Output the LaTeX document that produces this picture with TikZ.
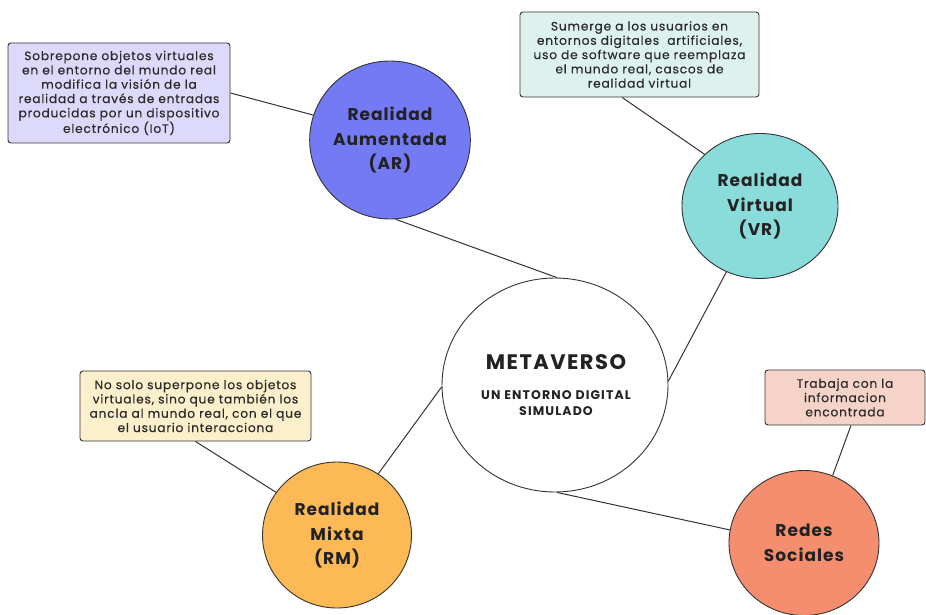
\documentclass[tikz,border=0pt]{standalone}
\usepackage{fontspec}
\setmainfont{Poppins}
\newfontfamily\trackcircle[LetterSpace=6]{Poppins}
\newfontfamily\trackmeta[LetterSpace=7]{Poppins}
\newfontfamily\tracksub[LetterSpace=9]{Poppins}
\newfontfamily\tracknote[LetterSpace=6.5,FakeBold=0.35]{Poppins}
\usetikzlibrary{shapes.geometric}
\definecolor{arfill}{HTML}{7479F4}
\definecolor{vrfill}{HTML}{8ADCDA}
\definecolor{rmfill}{HTML}{FCB955}
\definecolor{rsfill}{HTML}{F58E6E}
\definecolor{arbox}{HTML}{DCD9FA}
\definecolor{vrbox}{HTML}{DDF2EF}
\definecolor{rmbox}{HTML}{FCEFCB}
\definecolor{rsbox}{HTML}{F6D3C8}
\definecolor{ink}{HTML}{222222}
\definecolor{noteink}{HTML}{2A2A2A}
\definecolor{edge}{HTML}{333333}
\tikzset{
  topic/.style={ellipse, draw=edge, line width=0.9pt, inner sep=0pt, align=center,
    text=ink, font=\trackcircle\fontsize{17}{24.5}\selectfont\bfseries},
  note/.style={draw=edge, line width=0.9pt, rounded corners=3pt, align=center,
    text=noteink, font=\tracknote\fontsize{12.2}{14.3}\selectfont, inner sep=0pt},
  link/.style={draw=edge, line width=1pt}
}
\begin{document}
\begin{tikzpicture}[x=1pt,y=-1pt]
\useasboundingbox (0,0) rectangle (926,615);
% circles
\node[topic, fill=white, minimum width=226pt, minimum height=214pt] (meta) at (555,385) {};
\node[font=\trackmeta\fontsize{21}{25}\selectfont\bfseries, text=ink] (metat) at (556,362) {METAVERSO};
\node[font=\tracksub\fontsize{12.5}{15.5}\selectfont\bfseries, text=ink, align=center] (metas) at (556,403) {UN ENTORNO DIGITAL\\SIMULADO};
\node[topic, fill=arfill, minimum width=160pt, minimum height=158pt] (ar) at (390,140) {Realidad\\Aumentada\\(AR)};
\node[topic, fill=vrfill, minimum width=156pt, minimum height=145pt] (vr) at (760,206) {Realidad\\Virtual\\(VR)};
\node[topic, fill=rmfill, minimum width=149pt, minimum height=146pt] (rm) at (337,535) {Realidad\\Mixta\\(RM)};
\node[topic, fill=rsfill, minimum width=150pt, minimum height=145pt] (rs) at (804,543) {Redes\\Sociales};
% notes
\node[note, fill=arbox, minimum width=222pt, minimum height=100pt] (arn) at (119,93)
  {Sobrepone objetos virtuales\\en el entorno del mundo real\\modifica la visión de la\\realidad a través de entradas\\producidas por un dispositivo\\electrónico (IoT)};
\node[note, fill=vrbox, minimum width=239pt, minimum height=85pt] (vrn) at (639.5,54.5)
  {Sumerge a los usuarios en\\entornos digitales\ \ artificiales,\\uso de software que reemplaza\\el mundo real, cascos de\\realidad virtual};
\node[note, fill=rmbox, minimum width=231pt, minimum height=70pt] (rmn) at (195.5,406)
  {No solo superpone los objetos\\virtuales, sino que también los\\ancla al mundo real, con el que\\el usuario interacciona};
\node[note, fill=rsbox, minimum width=160pt, minimum height=55pt] (rsn) at (845,397.5)
  {Trabaja con la\\informacion\\encontrada};
% connectors
\draw[link] (arn.east) -- (ar.162);
\draw[link] (ar.-86) -- (meta.89);
\draw[link] (vrn.-112) -- (vr.137);
\draw[link] (vr.-117) -- (meta.2);
\draw[link] (rmn.south) -- (rm.145);
\draw[link] (rm.56) -- (meta.181);
\draw[link] (meta.-89) -- (rs.170);
\draw[link] (rsn.-78) -- (rs.67);
\end{tikzpicture}
\end{document}
